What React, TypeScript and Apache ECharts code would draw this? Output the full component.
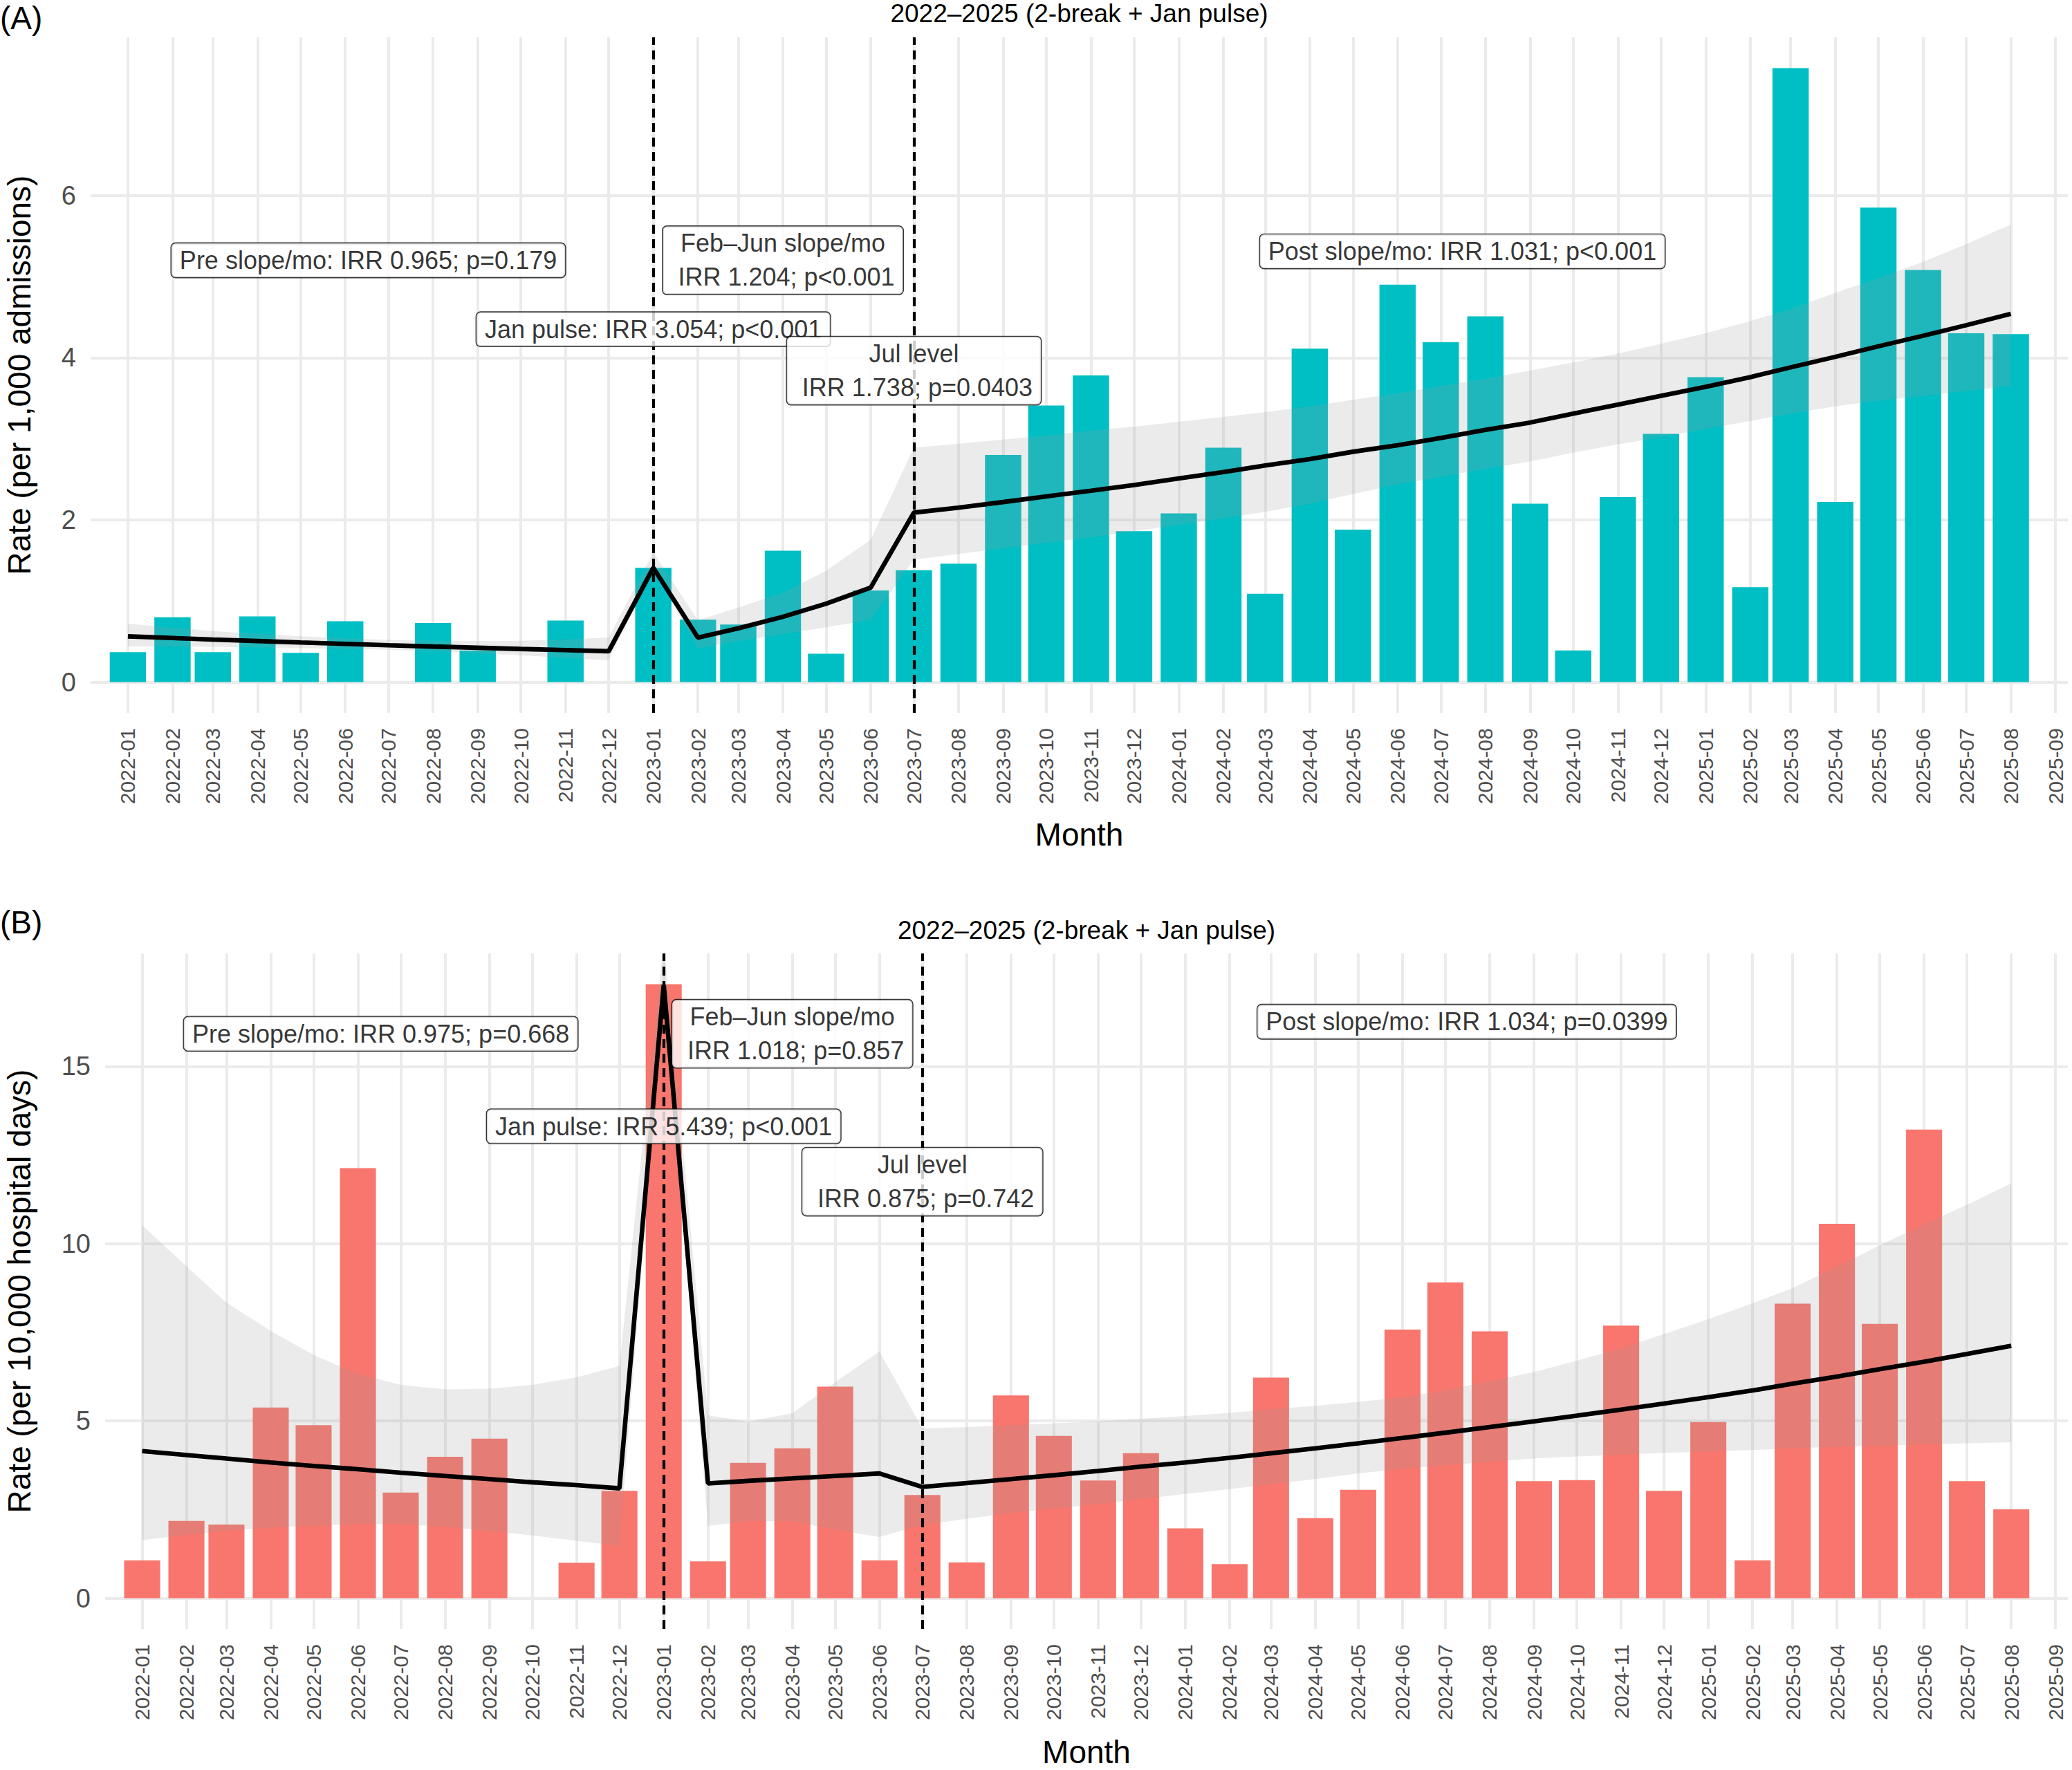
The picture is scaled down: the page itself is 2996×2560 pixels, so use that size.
import React, { useEffect, useRef } from "react";
import * as echarts from "echarts";

// ---------- data ----------
const MONTHS = [
  "2022-01", "2022-02", "2022-03", "2022-04", "2022-05", "2022-06", "2022-07", "2022-08", "2022-09", "2022-10", "2022-11", "2022-12",
  "2023-01", "2023-02", "2023-03", "2023-04", "2023-05", "2023-06", "2023-07", "2023-08", "2023-09", "2023-10", "2023-11", "2023-12",
  "2024-01", "2024-02", "2024-03", "2024-04", "2024-05", "2024-06", "2024-07", "2024-08", "2024-09", "2024-10", "2024-11", "2024-12",
  "2025-01", "2025-02", "2025-03", "2025-04", "2025-05", "2025-06", "2025-07", "2025-08",
];
const TICK_MONTHS = [...MONTHS, "2025-09"];
const BREAK_MONTHS = ["2023-01", "2023-07"];

// (A) rate per 1,000 admissions
const RATE_A = [
  0.37, 0.80, 0.37, 0.81, 0.36, 0.75, null, 0.73, 0.39, null, 0.76, null,
  1.41, 0.77, 0.71, 1.62, 0.35, 1.13, 1.38, 1.46, 2.80, 3.41, 3.78, 1.86,
  2.08, 2.89, 1.09, 4.11, 1.88, 4.90, 4.19, 4.51, 2.20, 0.39, 2.28, 3.06,
  3.76, 1.17, 7.57, 2.22, 5.85, 5.08, 4.30, 4.29,
];
const FIT_A = [
  0.564, 0.544, 0.525, 0.507, 0.489, 0.472, 0.455, 0.439, 0.424, 0.409, 0.395, 0.381,
  1.41, 0.549, 0.663, 0.805, 0.967, 1.166, 2.09, 2.15, 2.22, 2.29, 2.36, 2.43,
  2.51, 2.59, 2.67, 2.75, 2.84, 2.92, 3.01, 3.11, 3.20, 3.31, 3.42, 3.53,
  3.64, 3.76, 3.88, 4.01, 4.14, 4.27, 4.40, 4.54,
];
const LO_A = [
  0.44, 0.44, 0.435, 0.43, 0.42, 0.41, 0.40, 0.38, 0.355, 0.33, 0.30, 0.27,
  1.39, 0.416, 0.506, 0.592, 0.677, 0.768, 1.51, 1.58, 1.65, 1.72, 1.785, 1.86,
  1.94, 2.02, 2.10, 2.20, 2.32, 2.44, 2.53, 2.63, 2.72, 2.83, 2.93, 3.02,
  3.12, 3.22, 3.31, 3.40, 3.47, 3.53, 3.59, 3.65,
];
const HI_A = [
  0.72, 0.67, 0.63, 0.595, 0.565, 0.54, 0.52, 0.51, 0.505, 0.51, 0.525, 0.55,
  1.60, 0.762, 0.919, 1.103, 1.373, 1.757, 2.89, 2.94, 2.99, 3.04, 3.10, 3.15,
  3.21, 3.27, 3.33, 3.40, 3.48, 3.56, 3.65, 3.74, 3.84, 3.94, 4.05, 4.17,
  4.30, 4.45, 4.60, 4.80, 4.98, 5.18, 5.40, 5.64,
];
const NOTES_A = [
  { at: "2022-06-17", y: 5.2, text: "Pre slope/mo: IRR 0.965; p=0.179" },
  { at: "2023-04-01", y: 5.2, text: "Feb\u2013Jun slope/mo\n IRR 1.204; p<0.001" },
  { at: "2024-07-16", y: 5.31, text: "Post slope/mo: IRR 1.031; p<0.001" },
  { at: "2023-01-01", y: 4.35, text: "Jan pulse: IRR 3.054; p<0.001" },
  { at: "2023-07-01", y: 3.84, text: "Jul level\n IRR 1.738; p=0.0403" },
];

// (B) rate per 10,000 hospital days
const RATE_B = [
  1.07, 2.18, 2.08, 5.38, 4.88, 12.13, 2.98, 3.99, 4.50, null, 1.00, 3.03,
  17.32, 1.04, 3.82, 4.23, 5.97, 1.07, 2.91, 1.01, 5.72, 4.58, 3.32, 4.09,
  1.97, 0.96, 6.22, 2.26, 3.06, 7.58, 8.91, 7.53, 3.30, 3.33, 7.69, 3.03,
  4.97, 1.07, 8.31, 10.56, 7.74, 13.22, 3.30, 2.51,
];
const FIT_B = [
  4.15, 4.04, 3.94, 3.83, 3.73, 3.64, 3.54, 3.45, 3.36, 3.27, 3.19, 3.10,
  17.3, 3.24, 3.31, 3.38, 3.45, 3.52, 3.14, 3.25, 3.36, 3.47, 3.59, 3.71,
  3.83, 3.96, 4.09, 4.23, 4.37, 4.52, 4.67, 4.83, 4.99, 5.15, 5.32, 5.49,
  5.67, 5.86, 6.05, 6.25, 6.46, 6.67, 6.89, 7.12,
];
const LO_B = [
  1.64, 1.79, 1.90, 1.99, 2.05, 2.09, 2.09, 2.02, 1.90, 1.77, 1.62, 1.48,
  17.1, 2.04, 2.17, 2.17, 1.93, 1.73, 2.07, 2.24, 2.40, 2.53, 2.66, 2.80,
  2.94, 3.08, 3.22, 3.36, 3.52, 3.65, 3.75, 3.85, 3.94, 4.00, 4.05, 4.10,
  4.14, 4.18, 4.23, 4.27, 4.30, 4.34, 4.37, 4.40,
];
const HI_B = [
  10.52, 9.36, 8.34, 7.54, 6.86, 6.33, 6.02, 5.89, 5.91, 6.02, 6.23, 6.55,
  18.5, 5.16, 4.98, 5.22, 6.09, 6.96, 4.79, 4.83, 4.88, 4.93, 4.99, 5.06,
  5.14, 5.23, 5.33, 5.43, 5.54, 5.66, 5.87, 6.12, 6.38, 6.70, 7.05, 7.45,
  7.87, 8.32, 8.75, 9.35, 9.95, 10.55, 11.1, 11.7,
];
const NOTES_B = [
  { at: "2022-06-17", y: 15.92, text: "Pre slope/mo: IRR 0.975; p=0.668" },
  { at: "2023-04-01", y: 15.92, text: "Feb\u2013Jun slope/mo\n IRR 1.018; p=0.857" },
  { at: "2024-07-16", y: 16.26, text: "Post slope/mo: IRR 1.034; p=0.0399" },
  { at: "2023-01-01", y: 13.31, text: "Jan pulse: IRR 5.439; p<0.001" },
  { at: "2023-07-01", y: 11.75, text: "Jul level\n IRR 0.875; p=0.742" },
];

const Y_TICKS_A = [0, 2, 4, 6];
const Y_TICKS_B = [0, 5, 10, 15];
const TITLE = "2022\u20132025 (2-break + Jan pulse)";

// ---------- layout / style ----------
const W = 2996;
const H = 2560;
const FONT = '"Liberation Sans", Arial, Helvetica, sans-serif';
const GRID_COLOR = "#EBEBEB";
const RIBBON_FILL = "rgba(153,153,153,0.2)";
const X_MIN = -25.9; // days from 2022-01-01
const X_MAX = 1347.6;
const BAR_DAYS = 25.2; // bar width expressed in days

const ORIGIN = Date.UTC(2022, 0, 1);
function dayOf(s: string): number {
  const [y, m, d] = s.split("-").map(Number);
  return Math.round((Date.UTC(y, m - 1, d || 1) - ORIGIN) / 86400000);
}
const MONTH_DAYS = MONTHS.map(dayOf);
const TICK_DAYS = TICK_MONTHS.map(dayOf);

const PANELS = [
  {
    tag: "(A)",
    box: { left: 131, top: 54, width: 2859, height: 977 },
    yMin: -0.3785,
    yMax: 7.9485,
    yTicks: Y_TICKS_A,
    color: "#00BFC4",
    rate: RATE_A,
    fit: FIT_A,
    lo: LO_A,
    hi: HI_A,
    notes: NOTES_A,
    yTitle: "Rate (per 1,000 admissions)",
    tagY: 26,
    titleY: 19,
    monthY: 1207,
  },
  {
    tag: "(B)",
    box: { left: 152, top: 1379, width: 2838, height: 977 },
    yMin: -0.866,
    yMax: 18.186,
    yTicks: Y_TICKS_B,
    color: "#F8766D",
    rate: RATE_B,
    fit: FIT_B,
    lo: LO_B,
    hi: HI_B,
    notes: NOTES_B,
    yTitle: "Rate (per 10,000 hospital days)",
    tagY: 1334,
    titleY: 1345,
    monthY: 2534,
  },
];

function monthLabel(v: number): string {
  const i = TICK_DAYS.indexOf(Math.round(v));
  return i >= 0 ? TICK_MONTHS[i] : "";
}

function textStyle(text: string, fontSize: number, align: string) {
  return {
    text,
    fontSize,
    lineHeight: fontSize,
    fontFamily: FONT,
    fill: "#000",
    align,
    verticalAlign: "middle",
  };
}

function buildOption() {
  const grid: any[] = [];
  const xAxis: any[] = [];
  const yAxis: any[] = [];
  const series: any[] = [];
  const graphic: any[] = [];

  PANELS.forEach((p, i) => {
    const { box } = p;
    grid.push({ ...box, containLabel: false, outerBoundsMode: "none" });

    xAxis.push({
      type: "value",
      gridIndex: i,
      min: X_MIN,
      max: X_MAX,
      axisLine: { show: false },
      axisTick: { show: false, customValues: TICK_DAYS },
      axisLabel: {
        customValues: TICK_DAYS,
        rotate: 90,
        margin: 22,
        fontSize: 30,
        fontFamily: FONT,
        color: "#4D4D4D",
        formatter: (v: number) => monthLabel(v),
      },
      splitLine: { show: true, lineStyle: { color: GRID_COLOR, width: 4 } },
    });

    yAxis.push({
      type: "value",
      gridIndex: i,
      min: p.yMin,
      max: p.yMax,
      axisLine: { show: false },
      axisTick: { show: false, customValues: p.yTicks },
      axisLabel: {
        customValues: p.yTicks,
        margin: 21,
        fontSize: 38,
        fontFamily: FONT,
        color: "#4D4D4D",
      },
      splitLine: { show: true, lineStyle: { color: GRID_COLOR, width: 4 } },
    });

    // monthly bars
    series.push({
      type: "bar",
      xAxisIndex: i,
      yAxisIndex: i,
      z: 2,
      silent: true,
      barWidth: (BAR_DAYS * box.width) / (X_MAX - X_MIN),
      itemStyle: { color: p.color },
      data: MONTHS.map((m, k) => [MONTH_DAYS[k], p.rate[k]]).filter((d) => d[1] != null),
    });

    // confidence ribbon
    const lo = p.lo;
    const hi = p.hi;
    series.push({
      type: "custom",
      xAxisIndex: i,
      yAxisIndex: i,
      z: 3,
      silent: true,
      clip: true,
      data: [[MONTH_DAYS[0], lo[0]]],
      renderItem: (_params: any, api: any) => {
        const upper = MONTH_DAYS.map((d, k) => api.coord([d, hi[k]]));
        const lower = MONTH_DAYS.map((d, k) => api.coord([d, lo[k]])).reverse();
        return {
          type: "polygon",
          shape: { points: upper.concat(lower) },
          style: { fill: RIBBON_FILL },
        };
      },
    });

    // fitted segmented model + break markers
    series.push({
      type: "line",
      xAxisIndex: i,
      yAxisIndex: i,
      z: 4,
      silent: true,
      symbol: "none",
      showSymbol: false,
      lineStyle: { color: "#000", width: 6.6 },
      data: MONTHS.map((_m, k) => [MONTH_DAYS[k], p.fit[k]]),
      markLine: {
        silent: true,
        symbol: ["none", "none"],
        label: { show: false },
        lineStyle: { color: "#000", width: 4.2, type: [13, 8] },
        data: BREAK_MONTHS.map((m) => ({ xAxis: dayOf(m) })),
      },
    });

    // annotation boxes
    series.push({
      type: "scatter",
      xAxisIndex: i,
      yAxisIndex: i,
      z: 6,
      silent: true,
      symbolSize: 0,
      itemStyle: { color: "rgba(0,0,0,0)" },
      data: p.notes.map((n) => ({ value: [dayOf(n.at), n.y], name: n.text })),
      label: {
        show: true,
        position: "inside",
        formatter: "{b}",
        fontSize: 36,
        fontFamily: FONT,
        color: "#000",
        align: "center",
        verticalAlign: "middle",
        lineHeight: 49,
        padding: [0, 12],
        backgroundColor: "#fff",
        borderColor: "#000",
        borderWidth: 1.4,
        borderRadius: 6,
      },
    });

    const cx = box.left + box.width / 2;
    const cy = box.top + box.height / 2;
    graphic.push(
      { type: "text", x: 0, y: p.tagY, style: textStyle(p.tag, 46, "left") },
      { type: "text", x: cx, y: p.titleY, style: textStyle(TITLE, 37, "center") },
      { type: "text", x: 28, y: cy, rotation: Math.PI / 2, style: textStyle(p.yTitle, 46, "center") },
      { type: "text", x: cx, y: p.monthY, style: textStyle("Month", 46, "center") }
    );
  });

  return {
    animation: false,
    backgroundColor: "#fff",
    textStyle: { fontFamily: FONT },
    grid,
    xAxis,
    yAxis,
    series,
    graphic,
  };
}

export default function App() {
  const ref = useRef<HTMLDivElement>(null);
  useEffect(() => {
    if (!ref.current) return;
    const chart = echarts.init(ref.current, null, { renderer: "svg", width: W, height: H });
    chart.setOption(buildOption() as any);
    return () => chart.dispose();
  }, []);
  return (
    <div
      ref={ref}
      style={{ position: "absolute", left: 0, top: 0, width: W, height: H, background: "#fff" }}
    />
  );
}
